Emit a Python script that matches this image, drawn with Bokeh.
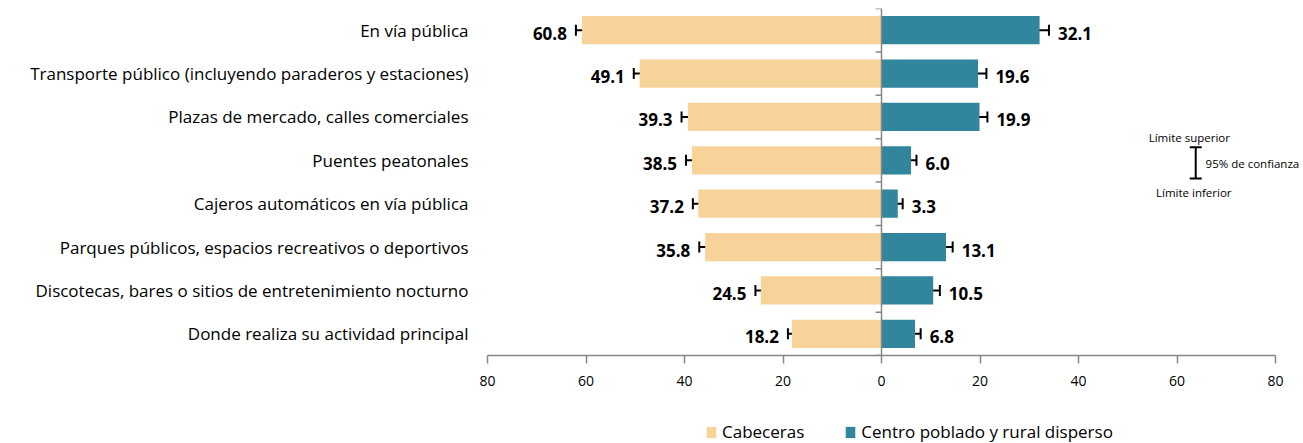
from bokeh.plotting import figure
from bokeh.layouts import column
from bokeh.models import (ColumnDataSource, Range1d, FixedTicker, CustomJSTickFormatter,
                          Whisker, TeeHead, Legend, LegendItem, Label, Span)
from bokeh.core.properties import value
from bokeh.embed import file_html
from bokeh.resources import INLINE

categories = [
    "En vía pública",
    "Transporte público (incluyendo paraderos y estaciones)",
    "Plazas de mercado, calles comerciales",
    "Puentes peatonales",
    "Cajeros automáticos en vía pública",
    "Parques públicos, espacios recreativos o deportivos",
    "Discotecas, bares o sitios de entretenimiento nocturno",
    "Donde realiza su actividad principal",
]
cabeceras = [60.8, 49.1, 39.3, 38.5, 37.2, 35.8, 24.5, 18.2]
cabeceras_err = [1.25, 1.2, 1.3, 1.2, 1.1, 1.2, 1.1, 0.8]
centro = [32.1, 19.6, 19.9, 6.0, 3.3, 13.1, 10.5, 6.8]
centro_err = [1.9, 1.7, 1.6, 1.1, 1.0, 1.35, 1.35, 1.15]
x_ticks = [-80, -60, -40, -20, 0, 20, 40, 60, 80]
series_names = ["Cabeceras", "Centro poblado y rural disperso"]

COL_CAB = "#F7D39A"
COL_CEN = "#31859C"
AXIS_COL = "#868686"
FONT = "Open Sans"

n = len(categories)
idx = list(range(n))

src_cab = ColumnDataSource(dict(
    y=idx, left=[-v for v in cabeceras], right=[0] * n,
    lo=[-(v + e) for v, e in zip(cabeceras, cabeceras_err)],
    hi=[-(v - e) for v, e in zip(cabeceras, cabeceras_err)],
    label=[f"{v:.1f}" for v in cabeceras],
))
src_cen = ColumnDataSource(dict(
    y=idx, left=[0] * n, right=centro,
    lo=[v - e for v, e in zip(centro, centro_err)],
    hi=[v + e for v, e in zip(centro, centro_err)],
    label=[f"{v:.1f}" for v in centro],
))

# layout: frame from x=487 to right edge (1303); ticks -80..80 span 788 px
FRAME_LEFT = 487
FRAME_W = 1303 - FRAME_LEFT
x_end = x_ticks[0] + FRAME_W * (x_ticks[-1] - x_ticks[0]) / 788.0

p = figure(width=1303, height=400, output_backend="svg", toolbar_location=None,
           x_range=Range1d(x_ticks[0], x_end), y_range=Range1d(n - 0.5, -0.5),
           min_border_left=FRAME_LEFT, min_border_right=0, min_border_top=8, min_border_bottom=45)
p.outline_line_color = None
p.xgrid.visible = False
p.ygrid.visible = False
p.background_fill_color = "white"

r_cab = p.hbar(y="y", left="left", right="right", height=0.65, source=src_cab,
               fill_color=COL_CAB, line_color=None)
r_cen = p.hbar(y="y", left="left", right="right", height=0.65, source=src_cen,
               fill_color=COL_CEN, line_color=None)

for src in (src_cab, src_cen):
    w = Whisker(source=src, base="y", lower="lo", upper="hi", dimension="width",
                line_color="black", line_width=2,
                lower_head=TeeHead(size=11, line_width=2, line_color="black"),
                upper_head=TeeHead(size=11, line_width=2, line_color="black"))
    p.add_layout(w)

p.text(x="lo", y="y", text="label", source=src_cab, x_offset=-9, y_offset=3,
       text_align="right", text_baseline="middle", text_font=value(FONT),
       text_font_style="bold", text_font_size="17px", text_color="black")
p.text(x="hi", y="y", text="label", source=src_cen, x_offset=9, y_offset=3,
       text_align="left", text_baseline="middle", text_font=value(FONT),
       text_font_style="bold", text_font_size="17px", text_color="black")

# central vertical axis with category boundary ticks
p.add_layout(Span(location=0, dimension="height", line_color=AXIS_COL, line_width=1.5))
bounds = [i - 0.5 for i in range(n + 1)]
p.segment(x0=[0] * len(bounds), x1=[-1.2] * len(bounds), y0=bounds, y1=bounds,
          line_color=AXIS_COL, line_width=1.5)

# bottom axis
xa = p.xaxis[0]
xa.ticker = FixedTicker(ticks=x_ticks)
xa.bounds = (x_ticks[0], x_ticks[-1])
xa.formatter = CustomJSTickFormatter(code="return Math.abs(tick).toString()")
xa.axis_line_color = AXIS_COL
xa.axis_line_width = 1.5
xa.major_tick_line_color = AXIS_COL
xa.major_tick_line_width = 1.5
xa.major_tick_in = 0
xa.major_tick_out = 8
xa.minor_tick_line_color = None
xa.major_label_standoff = 12
xa.major_label_text_font = FONT
xa.major_label_text_font_size = "14px"
xa.major_label_text_color = "black"

# left axis: categories
ya = p.yaxis[0]
ya.ticker = FixedTicker(ticks=idx)
ya.major_label_overrides = {i: c for i, c in zip(idx, categories)}
ya.axis_line_color = None
ya.major_tick_line_color = None
ya.minor_tick_line_color = None
ya.major_tick_out = 0
ya.major_tick_in = 0
ya.major_label_standoff = 19
ya.major_label_text_font = FONT
ya.major_label_text_font_size = "17px"
ya.major_label_text_color = "black"

# confidence interval key
key_x = 63.8
key_top = 2.70
key_bottom = 3.42
key_src = ColumnDataSource(dict(x=[key_x], lo=[key_top], hi=[key_bottom]))
p.add_layout(Whisker(source=key_src, base="x", lower="lo", upper="hi", dimension="height",
                     line_color="black", line_width=2,
                     lower_head=TeeHead(size=12, line_width=2, line_color="black"),
                     upper_head=TeeHead(size=12, line_width=2, line_color="black")))
for txt, x, y, align in [("Límite superior", 62.5, 2.47, "center"),
                         ("95% de confianza", 65.8, 3.07, "left"),
                         ("Límite inferior", 63.4, 3.74, "center")]:
    p.add_layout(Label(x=x, y=y, text=txt, text_align=align, text_baseline="middle",
                       text_font=FONT, text_font_size="11.5px", text_color="black"))

# legend strip below the chart (its frame is aligned with the main frame)
lg = figure(width=1303, height=43, output_backend="svg", toolbar_location=None,
            x_range=Range1d(0, 1), y_range=Range1d(0, 1),
            min_border_left=FRAME_LEFT, min_border_right=0, min_border_top=0, min_border_bottom=0)
lg.axis.visible = False
lg.xgrid.visible = False
lg.ygrid.visible = False
lg.outline_line_color = None
# swatch-only renderers, kept outside the visible range of the strip
d_cab = lg.hbar(y=[-5], left=[-5], right=[-4], height=0.5, fill_color=COL_CAB, line_color=None)
d_cen = lg.hbar(y=[-5], left=[-5], right=[-4], height=0.5, fill_color=COL_CEN, line_color=None)
legend = Legend(items=[LegendItem(label=series_names[0], renderers=[d_cab]),
                       LegendItem(label=series_names[1], renderers=[d_cen])],
                location=(705 - FRAME_LEFT, 0), orientation="horizontal",
                glyph_width=12, glyph_height=14, label_standoff=5, spacing=40,
                padding=0, margin=0, border_line_color=None, background_fill_alpha=0,
                label_text_font=FONT, label_text_font_size="17px", label_text_color="black")
lg.add_layout(legend, "center")

layout = column(p, lg, spacing=0)
open("out.html", "w").write(file_html(layout, INLINE))
